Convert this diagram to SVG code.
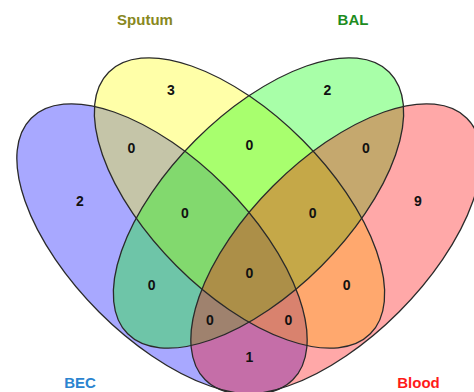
<svg xmlns="http://www.w3.org/2000/svg" xmlns:xlink="http://www.w3.org/1999/xlink" width="474" height="392" viewBox="0 0 474 392">
<style>
.fill{fill-opacity:0.34;stroke:none}
.outline{fill:none;stroke:#2a2a2a;stroke-width:1.3}
.num{font-family:"Liberation Sans",Arial,sans-serif;font-weight:bold;font-size:14px;fill:#111;text-anchor:middle}
.lab{font-family:"Liberation Sans",Arial,sans-serif;font-weight:bold;font-size:15px;text-anchor:middle}
</style>
<defs>
<ellipse id="e-bec" cx="162" cy="249" rx="185" ry="89" transform="rotate(45 162 249)"/>
<ellipse id="e-sputum" cx="239.5" cy="203" rx="185" ry="89" transform="rotate(45 239.5 203)"/>
<ellipse id="e-bal" cx="258.5" cy="203" rx="185" ry="89" transform="rotate(-45 258.5 203)"/>
<ellipse id="e-blood" cx="336" cy="249" rx="185" ry="89" transform="rotate(-45 336 249)"/>
</defs>
<rect width="474" height="392" fill="#ffffff"/>
<g id="BEC">
<use xlink:href="#e-bec" class="fill" fill="#0000ff"/>
<text class="lab" x="80" y="388" fill="#2b84d0">BEC</text>
</g>
<g id="Sputum">
<use xlink:href="#e-sputum" class="fill" fill="#ffff00"/>
<text class="lab" x="145" y="25" fill="#88881e">Sputum</text>
</g>
<g id="BAL">
<use xlink:href="#e-bal" class="fill" fill="#00ff00"/>
<text class="lab" x="353" y="25" fill="#1e8c1e">BAL</text>
</g>
<g id="Blood">
<use xlink:href="#e-blood" class="fill" fill="#ff0000"/>
<text class="lab" x="418.5" y="388" fill="#ff1a1a">Blood</text>
</g>
<g id="outlines">
<use xlink:href="#e-bec" class="outline"/>
<use xlink:href="#e-sputum" class="outline"/>
<use xlink:href="#e-bal" class="outline"/>
<use xlink:href="#e-blood" class="outline"/>
</g>
<g id="counts">
<text class="num" x="171" y="95">3</text>
<text class="num" x="327.5" y="95">2</text>
<text class="num" x="80" y="206">2</text>
<text class="num" x="418" y="206">9</text>
<text class="num" x="131.5" y="153">0</text>
<text class="num" x="249.3" y="150">0</text>
<text class="num" x="366" y="153">0</text>
<text class="num" x="185" y="218">0</text>
<text class="num" x="312.7" y="218">0</text>
<text class="num" x="249.3" y="277.5">0</text>
<text class="num" x="151.7" y="290">0</text>
<text class="num" x="346.7" y="290">0</text>
<text class="num" x="210" y="324.5">0</text>
<text class="num" x="288.3" y="324.5">0</text>
<text class="num" x="249.3" y="362">1</text>
</g>
</svg>
